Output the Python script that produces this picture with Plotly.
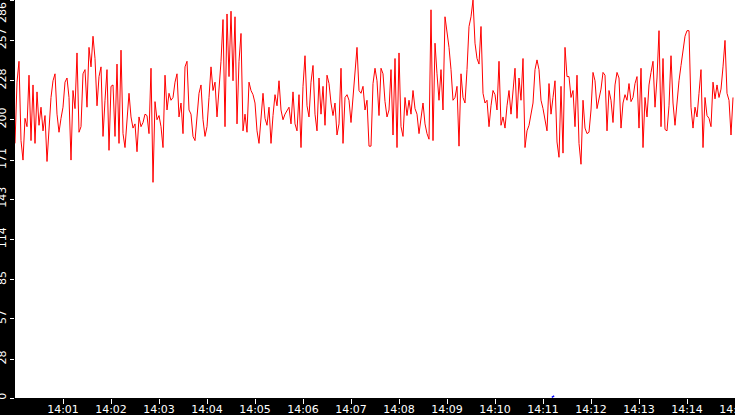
import pandas as pd
import plotly.graph_objects as go

# readings every 2.5 s from 14:00:00, split in blocks of 100 s
vals_0 = [183, 227, 242, 185, 171, 201, 195, 232, 185, 225, 183, 220, 196, 209, 192, 203, 170, 198, 216, 228,
          233, 204, 191, 201, 209, 227, 230, 216, 171, 221, 208, 248, 191, 195, 233, 236, 209, 252, 238, 260]
vals_1 = [244, 210, 231, 238, 188, 214, 236, 178, 224, 225, 188, 240, 183, 250, 190, 180, 200, 219, 202, 194,
          197, 177, 202, 195, 198, 204, 203, 190, 237, 155, 213, 200, 203, 195, 180, 232, 207, 219, 214, 216]
vals_2 = [227, 233, 202, 212, 190, 238, 242, 207, 204, 188, 185, 203, 219, 225, 200, 188, 195, 216, 238, 221,
          227, 202, 219, 242, 272, 195, 276, 231, 278, 228, 274, 197, 242, 262, 192, 204, 191, 227, 221, 218]
vals_3 = [212, 192, 183, 200, 219, 201, 196, 209, 183, 203, 218, 210, 228, 207, 200, 204, 207, 209, 197, 220,
          197, 192, 218, 180, 224, 246, 210, 202, 227, 239, 204, 192, 230, 204, 224, 196, 232, 226, 212, 203]
vals_4 = [212, 189, 197, 237, 183, 216, 218, 214, 198, 216, 238, 252, 221, 219, 224, 207, 214, 181, 181, 226,
          237, 228, 203, 237, 233, 213, 202, 207, 236, 189, 244, 180, 248, 195, 188, 216, 203, 214, 204, 221]
vals_5 = [208, 204, 190, 202, 212, 197, 190, 186, 279, 185, 255, 233, 214, 236, 207, 274, 263, 252, 236, 214,
          216, 224, 181, 233, 216, 212, 236, 267, 274, 286, 255, 244, 240, 267, 219, 212, 214, 195, 210, 221]
vals_6 = [218, 207, 242, 196, 202, 194, 210, 221, 204, 219, 237, 201, 230, 214, 244, 180, 192, 196, 204, 212,
          236, 243, 236, 214, 208, 201, 192, 226, 204, 216, 228, 184, 173, 224, 176, 252, 231, 231, 216, 221]
vals_7 = [195, 232, 183, 168, 214, 194, 190, 191, 207, 234, 228, 208, 216, 222, 234, 232, 192, 221, 214, 198,
          225, 234, 230, 194, 212, 218, 214, 226, 213, 216, 226, 231, 194, 237, 180, 216, 202, 225, 234, 242]
vals_8 = [209, 230, 264, 195, 244, 193, 192, 210, 246, 212, 196, 214, 228, 239, 248, 260, 264, 264, 209, 194,
          209, 202, 219, 236, 180, 216, 203, 201, 195, 227, 215, 225, 216, 222, 238, 257, 219, 214, 189, 216]

blue_times = ["2024-01-01 14:11:11", "2024-01-01 14:11:14"]
blue_vals = [0.5, 1.5]

y_ticks = [0, 28, 57, 85, 114, 143, 171, 200, 228, 257, 286]
y_labels = ["0", "28", "57", "85", "114", "143", "171", "200", "228", "257", "286" + "\u00a0" * 8]
x_ticks = pd.date_range("2024-01-01 14:01:00", "2024-01-01 14:15:00", freq="1min")

values = vals_0 + vals_1 + vals_2 + vals_3 + vals_4 + vals_5 + vals_6 + vals_7 + vals_8
times = pd.date_range("2024-01-01 14:00:00", periods=len(values), freq="2500ms")

fig = go.Figure()
fig.add_trace(go.Scatter(x=times, y=values, mode="lines", line=dict(color="#ff0000", width=1)))
fig.add_trace(go.Scatter(x=pd.to_datetime(blue_times), y=blue_vals, mode="lines",
                         line=dict(color="#0000ff", width=1.5)))

fig.update_layout(
    width=735, height=415,
    margin=dict(l=15, r=0, t=0, b=17, autoexpand=False),
    paper_bgcolor="black", plot_bgcolor="white",
    showlegend=False,
    font=dict(family="DejaVu Sans", size=11, color="white"),
)
fig.update_xaxes(
    range=["2024-01-01 14:00:00", "2024-01-01 14:15:00"],
    tickvals=x_ticks, tickformat="%H:%M",
    ticks="outside", ticklen=5, tickcolor="white", tickwidth=1,
    ticklabelstandoff=-4, ticklabeloverflow="allow",
    showgrid=False, zeroline=False, showline=False, automargin=False,
    tickfont=dict(size=11, color="white"),
)
fig.update_yaxes(
    range=[0, 286.05],
    tickvals=y_ticks, ticktext=y_labels, tickangle=-90,
    ticks="outside", ticklen=4, tickcolor="white", tickwidth=1,
    ticklabeloverflow="allow",
    showgrid=False, zeroline=False, showline=False, automargin=False,
    tickfont=dict(size=11, color="white"),
)

# page body has an 8px default margin; drop it so the chart fills the window
fig.write_html("out.html", config={"displayModeBar": False},
               post_script="document.body.style.margin='0';")
